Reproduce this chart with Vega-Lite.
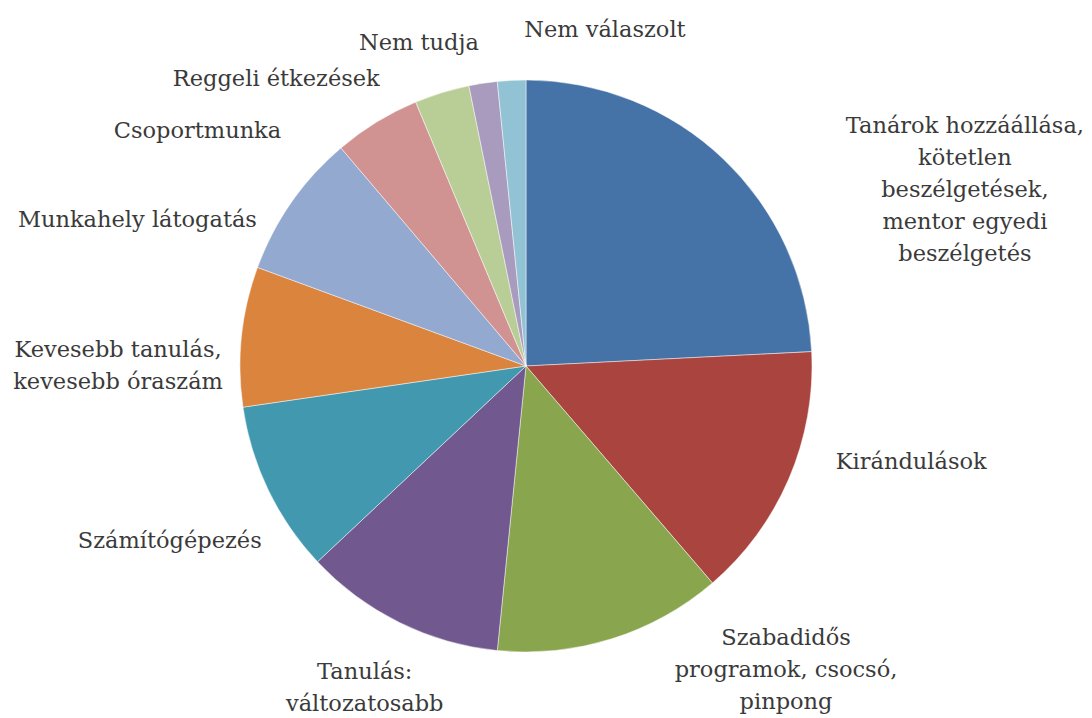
{
  "$schema": "https://vega.github.io/schema/vega-lite/v6.json",
  "width": 1052,
  "height": 704,
  "autosize": {"type": "none"},
  "padding": {"left": 0, "top": 14, "right": 40, "bottom": 0},
  "background": "#ffffff",
  "config": {"view": {"stroke": null}, "text": {"font": "DejaVu Serif"}},
  "data": {
    "values": [
      {"sorrend": 1, "kategoria": "Tanárok hozzáállása, kötetlen beszélgetések, mentor egyedi beszélgetés", "cimke": "Tanárok hozzáállása,|kötetlen|beszélgetések,|mentor egyedi|beszélgetés", "ertek": 24.2},
      {"sorrend": 2, "kategoria": "Kirándulások", "cimke": "Kirándulások", "ertek": 14.5},
      {"sorrend": 3, "kategoria": "Szabadidős programok, csocsó, pinpong", "cimke": "Szabadidős|programok, csocsó,|pinpong", "ertek": 12.9},
      {"sorrend": 4, "kategoria": "Tanulás: változatosabb", "cimke": "Tanulás:|változatosabb", "ertek": 11.4},
      {"sorrend": 5, "kategoria": "Számítógépezés", "cimke": "Számítógépezés", "ertek": 9.7},
      {"sorrend": 6, "kategoria": "Kevesebb tanulás, kevesebb óraszám", "cimke": "Kevesebb tanulás,|kevesebb óraszám", "ertek": 7.9},
      {"sorrend": 7, "kategoria": "Munkahely látogatás", "cimke": "Munkahely látogatás", "ertek": 8.2},
      {"sorrend": 8, "kategoria": "Csoportmunka", "cimke": "Csoportmunka", "ertek": 4.9},
      {"sorrend": 9, "kategoria": "Reggeli étkezések", "cimke": "Reggeli étkezések", "ertek": 3.1},
      {"sorrend": 10, "kategoria": "Nem tudja", "cimke": "Nem tudja", "ertek": 1.6},
      {"sorrend": 11, "kategoria": "Nem válaszolt", "cimke": "Nem válaszolt", "ertek": 1.6}
    ]
  },
  "encoding": {
    "theta": {"field": "ertek", "type": "quantitative", "stack": true},
    "order": {"field": "sorrend", "type": "quantitative", "sort": "ascending"}
  },
  "layer": [
    {
      "mark": {"type": "arc", "outerRadius": 286, "stroke": "#ffffff", "strokeWidth": 0.8, "strokeOpacity": 0.6},
      "encoding": {
        "color": {
          "field": "kategoria",
          "type": "nominal",
          "sort": null,
          "legend": null,
          "scale": {
            "domain": [
              "Tanárok hozzáállása, kötetlen beszélgetések, mentor egyedi beszélgetés",
              "Kirándulások",
              "Szabadidős programok, csocsó, pinpong",
              "Tanulás: változatosabb",
              "Számítógépezés",
              "Kevesebb tanulás, kevesebb óraszám",
              "Munkahely látogatás",
              "Csoportmunka",
              "Reggeli étkezések",
              "Nem tudja",
              "Nem válaszolt"
            ],
            "range": ["#4572a7", "#a9443f", "#89a54e", "#71588f", "#4198af", "#db843d", "#93a9cf", "#d19392", "#b9cd96", "#a99bbd", "#92c3d5"]
          }
        }
      }
    },
    {
      "mark": {
        "type": "text",
        "radius": 380,
        "font": "DejaVu Serif",
        "fontSize": 22.5,
        "lineHeight": 32,
        "lineBreak": "|",
        "align": "center",
        "baseline": "middle",
        "color": "#3a3a3a",
        "dx": {"expr": "[177,36,146,7,-14,-30,-77,-130,-138,-50,98][datum.sorrend-1]"},
        "dy": {"expr": "[35,-54,-90,-35,10,23,72,89,76,53,44][datum.sorrend-1]"}
      },
      "encoding": {
        "text": {"field": "cimke", "type": "nominal"}
      }
    }
  ]
}
